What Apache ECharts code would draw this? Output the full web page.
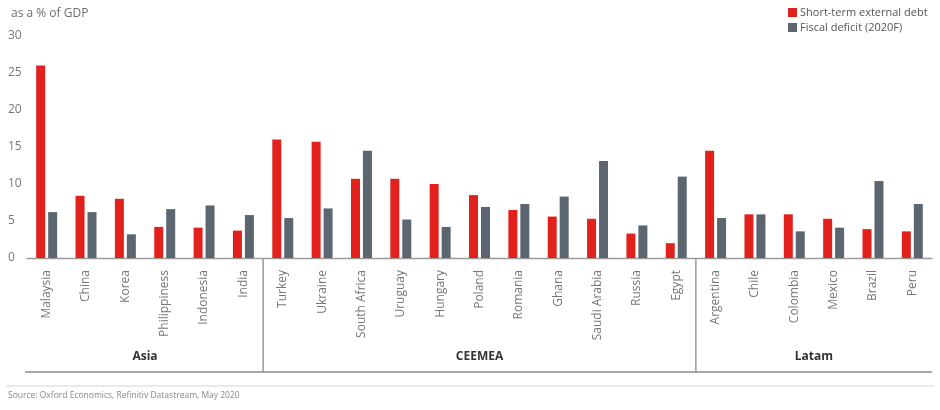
<!DOCTYPE html>
<html>
<head>
<meta charset="utf-8">
<script src="https://cdn.jsdelivr.net/npm/echarts@6/dist/echarts.min.js"></script>
<style>
  html, body { margin: 0; padding: 0; background: #fff; }
  #chart { width: 940px; height: 410px; }
</style>
</head>
<body>
<div id="chart"></div>
<script>
var countries = ['Malaysia', 'China', 'Korea', 'Philippiness', 'Indonesia', 'India',
    'Turkey', 'Ukraine', 'South Africa', 'Uruguay', 'Hungary', 'Poland', 'Romania',
    'Ghana', 'Saudi Arabia', 'Russia', 'Egypt',
    'Argentina', 'Chile', 'Colombia', 'Mexico', 'Brazil', 'Peru'];
var shortTermDebt = [26.0, 8.4, 8.0, 4.2, 4.1, 3.7,
    16.0, 15.7, 10.7, 10.7, 10.0, 8.5, 6.5, 5.6, 5.3, 3.3, 2.0,
    14.5, 5.9, 5.9, 5.3, 3.9, 3.6];
var fiscalDeficit = [6.2, 6.2, 3.2, 6.6, 7.1, 5.8,
    5.4, 6.7, 14.5, 5.2, 4.2, 6.9, 7.3, 8.3, 13.1, 4.4, 11.0,
    5.4, 5.9, 3.6, 4.1, 10.4, 7.3];
// regions: name and how many countries in each
var regions = ['Asia', 'CEEMEA', 'Latam'];
var regionSizes = [6, 11, 6];
var yTicks = [0, 5, 10, 15, 20, 25, 30];

var RED = '#e2201c';
var GREY = '#5b6670';
var font = '"Open Sans", "Liberation Sans", sans-serif';

var myChart = echarts.init(document.getElementById('chart'));
var option = {
    animation: false,
    textStyle: { fontFamily: font },
    title: {
        text: 'as a % of GDP',
        left: 6,
        top: 3,
        textStyle: { fontSize: 12, fontWeight: 'normal', color: '#6d6d6d', fontFamily: font }
    },
    legend: {
        orient: 'vertical',
        left: 783,
        top: 2,
        itemWidth: 9,
        itemHeight: 9,
        itemGap: 4,
        icon: 'rect',
        textStyle: { fontSize: 11, color: '#555', padding: [0, 0, 0, -2] },
        data: ['Short-term external debt', 'Fiscal deficit (2020F)']
    },
    grid: { left: 27, right: 8, top: 36, bottom: 152 },
    xAxis: {
        type: 'category',
        data: countries,
        axisLine: { lineStyle: { color: '#9a9a9a', width: 1.3 } },
        axisTick: { show: false },
        axisLabel: {
            rotate: 90,
            interval: 0,
            margin: 12,
            fontSize: 12,
            color: '#777',
            fontFamily: font
        }
    },
    yAxis: {
        type: 'value',
        min: yTicks[0],
        max: yTicks[yTicks.length - 1],
        interval: 5,
        splitLine: { show: false },
        axisLine: { show: false },
        axisTick: { show: false },
        axisLabel: { fontSize: 12, color: '#777', margin: 6, align: 'left', padding: [0, 0, 0, -13] }
    },
    series: [
        {
            name: 'Short-term external debt',
            type: 'bar',
            data: shortTermDebt,
            barWidth: 9,
            barGap: '33%',
            itemStyle: { color: RED }
        },
        {
            name: 'Fiscal deficit (2020F)',
            type: 'bar',
            data: fiscalDeficit,
            barWidth: 9,
            itemStyle: { color: GREY }
        }
    ]
};
myChart.setOption(option);

// region separators, labels and bottom lines, placed from the axis scale
function drawRegions() {
    var c0 = myChart.convertToPixel({ xAxisIndex: 0 }, 0);
    var c1 = myChart.convertToPixel({ xAxisIndex: 0 }, 1);
    var step = c1 - c0;
    var left = c0 - step / 2;
    var axisY = myChart.convertToPixel({ yAxisIndex: 0 }, 0);
    var bottomY = axisY + 114;
    var right = left + step * countries.length;
    var els = [];
    var start = 0;
    regions.forEach(function (name, i) {
        var x0 = left + start * step;
        var x1 = left + (start + regionSizes[i]) * step;
        els.push({
            type: 'text',
            x: (x0 + x1) / 2,
            y: bottomY - 15,
            style: {
                text: name, fill: '#333', font: 'bold 12px ' + font,
                align: 'center', verticalAlign: 'middle'
            }
        });
        if (i > 0) {
            els.push({
                type: 'line',
                shape: { x1: x0, y1: axisY, x2: x0, y2: bottomY },
                style: { stroke: '#666', lineWidth: 1 }
            });
        }
        start += regionSizes[i];
    });
    els.push({
        type: 'line',
        shape: { x1: left - 2, y1: bottomY, x2: right, y2: bottomY },
        style: { stroke: '#8a8a8a', lineWidth: 1.5 }
    });
    els.push({
        type: 'line',
        shape: { x1: 6, y1: bottomY + 14, x2: 934, y2: bottomY + 14 },
        style: { stroke: '#d4d4d4', lineWidth: 1 }
    });
    els.push({
        type: 'text',
        x: 8,
        y: bottomY + 24,
        style: {
            text: 'Source: Oxford Economics, Refinitiv Datastream, May 2020',
            fill: '#888', font: '8.5px ' + font, verticalAlign: 'middle'
        }
    });
    myChart.setOption({ graphic: { elements: els } });
}
drawRegions();
</script>
</body>
</html>
